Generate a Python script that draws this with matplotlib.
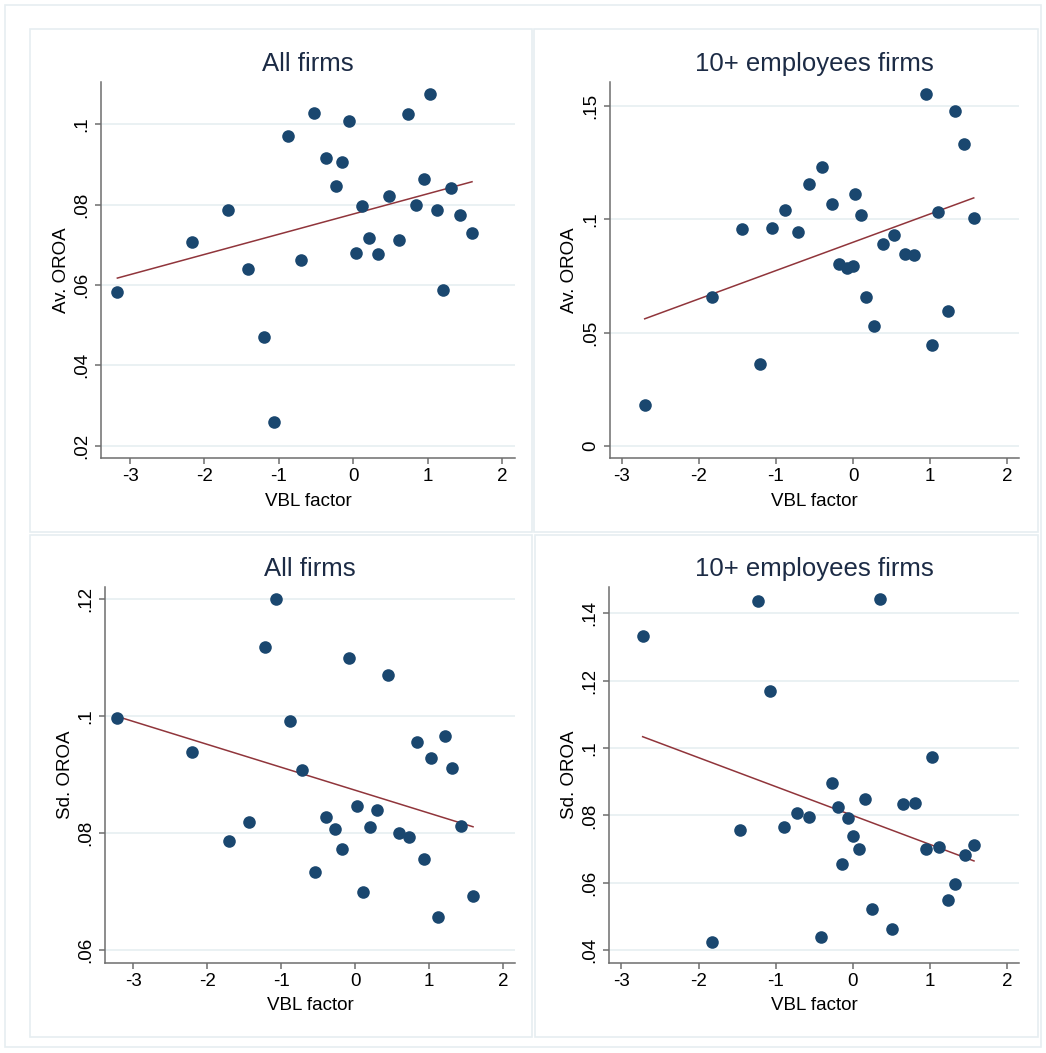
import matplotlib
matplotlib.use("Agg")
import matplotlib.pyplot as plt
import numpy as np
from matplotlib.patches import Rectangle

plt.rcParams['font.family'] = ['Liberation Sans', 'DejaVu Sans']

W, H = 1046, 1053

# top-left: all firms, average OROA
x_all_av = [-3.17, -2.167, -1.679, -1.415, -1.203, -1.06, -0.876, -0.702, -0.531, -0.37,
            -0.235, -0.146, -0.052, 0.038, 0.123, 0.213, 0.329, 0.485, 0.62, 0.737,
            0.844, 0.948, 1.028, 1.131, 1.211, 1.319, 1.435, 1.597]
y_all_av = [0.0582, 0.0706, 0.0786, 0.0639, 0.0469, 0.0259, 0.097, 0.0662, 0.1027, 0.0917,
            0.0845, 0.0905, 0.1009, 0.068, 0.0796, 0.0717, 0.0677, 0.0821, 0.0712, 0.1026,
            0.0798, 0.0863, 0.1075, 0.0787, 0.0586, 0.0842, 0.0774, 0.073]

# top-right: 10+ employees firms, average OROA
x_big_av = [-2.702, -1.829, -1.44, -1.21, -1.047, -0.886, -0.717, -0.567, -0.398, -0.268,
            -0.186, -0.078, -0.004, 0.026, 0.1, 0.173, 0.277, 0.393, 0.532, 0.674,
            0.795, 0.943, 1.025, 1.107, 1.228, 1.327, 1.444, 1.565]
y_big_av = [0.018, 0.0657, 0.0957, 0.0363, 0.0962, 0.104, 0.0944, 0.1157, 0.1231, 0.1066,
            0.0801, 0.0786, 0.0794, 0.1113, 0.1018, 0.0656, 0.0529, 0.089, 0.0932, 0.0848,
            0.0841, 0.1553, 0.0444, 0.1031, 0.0597, 0.1477, 0.1332, 0.1006]

# bottom-left: all firms, sd OROA
x_all_sd = [-3.216, -2.207, -1.711, -1.432, -1.22, -1.068, -0.878, -0.716, -0.545, -0.392,
            -0.27, -0.176, -0.081, 0.019, 0.108, 0.195, 0.293, 0.438, 0.595, 0.73,
            0.838, 0.928, 1.019, 1.114, 1.212, 1.311, 1.432, 1.591]
y_all_sd = [0.0997, 0.0938, 0.0786, 0.0819, 0.1118, 0.12, 0.0991, 0.0908, 0.0733, 0.0827,
            0.0807, 0.0773, 0.11, 0.0847, 0.07, 0.081, 0.0839, 0.1071, 0.08, 0.0794,
            0.0956, 0.0756, 0.0928, 0.0656, 0.0966, 0.0912, 0.0812, 0.0693]

# bottom-right: 10+ employees firms, sd OROA
x_big_sd = [-2.724, -1.829, -1.462, -1.236, -1.073, -0.891, -0.73, -0.571, -0.419, -0.268,
            -0.19, -0.138, -0.065, 0.0, 0.078, 0.156, 0.246, 0.346, 0.502, 0.649,
            0.80, 0.947, 1.021, 1.115, 1.228, 1.319, 1.449, 1.569]
y_big_sd = [0.1333, 0.0423, 0.0756, 0.1436, 0.1169, 0.0766, 0.0807, 0.0796, 0.044, 0.0897,
            0.0825, 0.0657, 0.0793, 0.0739, 0.0701, 0.0848, 0.0522, 0.1443, 0.0463, 0.0834,
            0.0838, 0.07, 0.0973, 0.0707, 0.055, 0.0596, 0.0683, 0.0711]

titles = ["All firms", "10+ employees firms", "All firms", "10+ employees firms"]
ylabels = ["Av. OROA", "Av. OROA", "Sd. OROA", "Sd. OROA"]
xlabel = "VBL factor"
xticks = [-3, -2, -1, 0, 1, 2]
yticks_all_av = [0.02, 0.04, 0.06, 0.08, 0.1]
yticks_big_av = [0, 0.05, 0.1, 0.15]
yticks_all_sd = [0.06, 0.08, 0.1, 0.12]
yticks_big_sd = [0.04, 0.06, 0.08, 0.1, 0.12, 0.14]

NAVY = '#1a476f'
MAROON = '#90353b'
GRID = '#e8f0f2'
FRAME = '#e6eef1'
AXC = '#6e6e6e'


def stata_fmt(v):
    # Stata style: ".05" instead of "0.05"
    s = ('%g' % round(v, 4))
    if s.startswith('0.'):
        s = s[1:]
    return s


def panel(fig, box, x, y, title, ylab, yticks, xlim, ylim):
    left, top, right, bottom = box   # pixels, from top-left
    hpx = bottom - top
    ax = fig.add_axes([left / W, 1 - bottom / H, (right - left) / W, hpx / H])
    ax.set_xlim(*xlim)
    ax.set_ylim(*ylim)
    for t in yticks:
        ax.axhline(t, color=GRID, lw=1.3, zorder=0)
    ax.scatter(x, y, s=82, color=NAVY, linewidths=0, zorder=3)
    # linear fit like Stata lfit
    b, a = np.polyfit(x, y, 1)
    xs = np.array([min(x), max(x)])
    ax.plot(xs, a + b * xs, color=MAROON, lw=1.1, zorder=2)

    for s in ['top', 'right']:
        ax.spines[s].set_visible(False)
    for s in ['left', 'bottom']:
        ax.spines[s].set_color(AXC)
        ax.spines[s].set_linewidth(1.1)
    ax.set_xticks(xticks)
    ax.set_xticklabels([str(t) for t in xticks])
    ax.set_yticks(yticks)
    ax.set_yticklabels([stata_fmt(t) for t in yticks])
    ax.tick_params(length=4, width=1.1, color=AXC, labelsize=13.5, pad=3.5)
    for lab in ax.get_yticklabels():
        lab.set_rotation(90)
        lab.set_va('center')

    ax.set_title(title, fontsize=18.5, color='#1c2b45', y=1 + 18.0 / hpx, va='center', pad=0)
    ax.set_xlabel(xlabel, fontsize=13.5)
    ax.xaxis.set_label_coords(0.5, -43.0 / hpx)
    ax.xaxis.label.set_va('center')
    ax.set_ylabel(ylab, fontsize=13.5)
    ax.yaxis.set_label_coords(-40.0 / (right - left), 0.5)
    ax.yaxis.label.set_va('center')
    ax.yaxis.label.set_ha('center')
    return ax


fig = plt.figure(figsize=(W / 100, H / 100), dpi=100)
fig.patch.set_facecolor('white')

# outer and panel frames
frames = [(5, 5, 1041, 1047), (30, 29, 532, 532), (534, 29, 1038, 532),
          (30, 535, 532, 1037), (535, 535, 1038, 1037)]
for (l, t, r, b) in frames:
    fig.patches.append(Rectangle((l / W, 1 - b / H), (r - l) / W, (b - t) / H,
                                 transform=fig.transFigure, fill=False,
                                 edgecolor=FRAME, lw=1.2))

panel(fig, (101, 82, 515, 458), x_all_av, y_all_av, titles[0], ylabels[0],
      yticks_all_av, (-3.39, 2.175), (0.0169, 0.1105))
panel(fig, (610, 82, 1019, 458), x_big_av, y_big_av, titles[1], ylabels[1],
      yticks_big_av, (-3.152, 2.152), (-0.0053, 0.1606))
panel(fig, (105, 587, 515, 963), x_all_sd, y_all_sd, titles[2], ylabels[2],
      yticks_all_sd, (-3.382, 2.158), (0.0578, 0.1221))
panel(fig, (609, 587, 1019, 963), x_big_sd, y_big_sd, titles[3], ylabels[3],
      yticks_big_sd, (-3.16, 2.152), (0.0362, 0.1478))

fig.savefig('out.png', dpi=100, facecolor='white')
